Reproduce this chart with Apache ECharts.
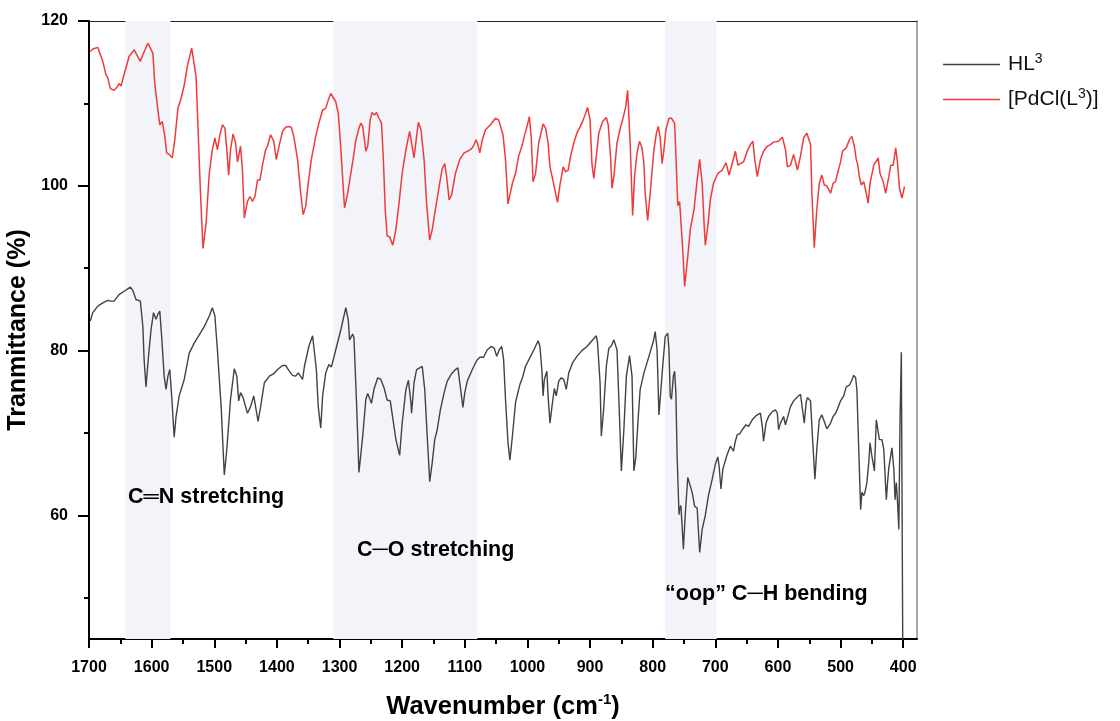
<!DOCTYPE html>
<html><head><meta charset="utf-8">
<script src="https://cdn.jsdelivr.net/npm/echarts@6/dist/echarts.min.js"></script>
<style>html,body{margin:0;padding:0;background:#fff}#c{width:1120px;height:721px}</style>
</head><body><div id="c"></div><script>
// ---- data ----
const hlWavenumber = [1698,1694,1686,1678,1670,1665,1660,1652,1644,1634,1630,1625,1618,1614,1612,1609,1605,1601,1597,1593,1590,1587,1584,1580,1577,1574,1571,1568,1564,1561,1556,1548,1540,1532,1524,1516,1508,1503,1499,1495,1489,1484,1480,1474,1468,1464,1461,1458,1454,1451,1447,1442,1437,1434,1430,1426,1420,1412,1405,1399,1391,1386,1381,1375,1370,1366,1359,1356,1349,1343,1341,1337,1334,1330,1327,1322,1317,1313,1306,1298,1290,1286,1284,1279,1277,1273,1269,1263,1258,1255,1249,1245,1239,1234,1229,1224,1219,1215,1210,1204,1200,1194,1190,1186,1185,1181,1177,1172,1168,1164,1160,1156,1152,1148,1144,1139,1133,1128,1121,1115,1111,1108,1103,1100,1096,1088,1081,1076,1070,1064,1058,1053,1049,1045,1041,1038,1035,1031,1028,1024,1019,1012,1008,1003,995,989,983,980,977,975,973,969,967,964,960,957,954,950,946,942,938,934,928,921,913,905,897,890,888,884,882,878,874,870,866,862,859,857,854,850,846,842,837,833,830,827,823,820,814,806,799,796,793,790,788,784,780,776,774,772,770,767,765,763,761,758,757,755,753,751,748,744,741,737,733,729,725,721,716,711,705,700,696,694,691,688,682,676,671,668,665,661,657,655,651,647,641,635,628,625,623,619,615,609,604,601,599,596,591,588,585,580,575,570,564,561,558,555,553,548,545,541,538,534,530,526,522,516,512,508,505,500,495,491,486,482,479,476,474,471,468,466,463,461,458,455,453,450,446,443,440,438,434,431,427,425,423,420,418,415,413,411,409,407,405,403,400.5];
const hlTransmittance = [83.6,84.6,85.4,85.8,86.1,86.0,86.0,86.8,87.2,87.7,87.3,86.2,86.0,82.9,78.9,75.6,79.3,82.5,84.6,83.8,84.4,84.8,81.7,76.9,75.3,76.9,77.7,74.5,69.5,72.0,74.5,76.5,79.7,80.9,81.9,82.9,84.2,85.2,84.2,80.1,73.2,64.9,68.0,74.1,77.8,76.9,73.9,74.9,74.3,74.5,72.4,73.2,74.5,74.3,71.4,73.2,76.1,76.9,77.2,77.7,78.2,78.2,77.6,77.0,76.9,77.3,76.5,78.1,80.5,81.8,81.6,77.7,73.2,70.6,74.5,77.3,78.3,78.0,80.1,82.5,85.2,83.7,81.3,82.0,81.6,74.0,65.2,69.6,74.1,74.8,73.6,75.3,76.7,76.5,75.5,74.0,73.9,71.8,69.2,67.3,71.2,75.3,76.4,73.7,72.4,76.1,77.7,77.9,78.1,75.3,69.6,64.1,66.4,69.2,70.4,72.8,74.9,76.3,77.2,77.7,77.9,76.1,73.1,74.9,76.3,77.7,78.8,79.2,79.2,80.1,80.5,80.3,79.3,80.1,80.5,78.9,74.1,68.8,66.7,69.6,73.7,75.9,76.7,78.1,79.3,80.2,81.2,80.5,77.7,74.5,76.5,77.5,74.5,71.2,73.7,75.4,74.5,76.3,76.7,76.5,75.3,77.3,78.5,79.3,80.0,80.5,81.2,81.8,80.9,76.1,69.6,73.2,78.1,80.3,80.6,81.3,81.3,80.1,74.1,65.4,70.4,76.9,79.4,76.9,65.4,67.0,72.0,75.3,77.3,79.3,81.1,82.3,80.1,72.2,72.0,78.1,81.7,82.1,80.1,74.5,74.1,76.9,77.5,74.9,67.2,60.1,60.8,61.2,58.7,55.9,60.1,64.6,64.8,62.8,61.1,60.9,55.5,58.3,60.0,62.4,64.4,66.2,67.1,66.0,63.2,65.6,67.2,68.4,67.8,69.0,69.8,69.9,70.4,70.2,71.0,70.8,71.6,72.1,72.4,70.8,69.0,71.2,72.0,72.6,72.8,72.4,70.4,71.2,72.0,71.0,71.8,73.2,73.9,74.3,74.7,74.5,71.2,73.7,74.3,73.9,69.6,64.4,68.0,71.6,72.2,71.4,70.5,71.2,72.0,72.4,72.9,73.9,74.5,75.6,75.8,76.4,77.0,76.7,75.3,68.0,60.7,62.8,62.4,62.8,64.0,66.4,68.8,67.2,65.4,71.6,71.5,69.2,69.2,68.0,61.9,64.0,65.8,66.0,68.2,65.6,61.9,64.0,61.5,58.3,72.0,79.8,40];

const pdWavenumber = [1698,1694,1686,1683,1678,1673,1670,1666,1660,1655,1652,1649,1644,1636,1628,1625,1618,1614,1606,1603,1598,1595,1590,1587,1583,1579,1576,1572,1567,1563,1558,1553,1548,1543,1536,1533,1529,1526,1522,1518,1513,1508,1503,1499,1495,1491,1487,1483,1480,1477,1474,1470,1466,1463,1458,1455,1452,1447,1443,1439,1435,1431,1427,1423,1418,1415,1410,1405,1401,1396,1391,1386,1381,1377,1373,1367,1362,1358,1354,1350,1345,1338,1333,1327,1322,1318,1314,1311,1306,1302,1298,1292,1287,1279,1274,1269,1266,1263,1258,1255,1251,1248,1244,1241,1237,1233,1230,1227,1224,1220,1215,1210,1205,1200,1194,1188,1185,1181,1177,1174,1170,1165,1161,1156,1152,1147,1141,1136,1132,1129,1125,1121,1115,1108,1101,1093,1089,1085,1082,1079,1076,1072,1067,1059,1051,1046,1039,1035,1031,1024,1019,1014,1008,1005,1000,997,994,991,987,982,975,971,967,964,960,958,952,948,943,939,935,931,926,921,913,907,904,900,897,894,890,886,880,874,871,867,865,862,857,851,848,843,840,838,836,832,829,825,821,817,814,812,808,804,798,794,791,788,785,782,779,774,770,767,765,762,760,757,755,752,749,744,740,734,729,725,721,718,716,712,708,703,696,689,683,678,673,668,664,660,655,649,644,640,637,633,628,623,617,612,607,599,593,591,588,585,580,575,572,569,564,559,554,548,546,542,538,534,530,526,522,516,512,508,505,500,497,491,486,482,478,475,473,470,467,463,459,456,453,447,440,437,432,428,423,420,416,412,409,406,402,398];
const pdTransmittance = [116.3,116.6,116.8,116.7,115.1,113.5,113.1,111.8,111.6,112.0,112.4,112.1,113.5,115.7,116.5,116.6,115.1,115.9,117.3,117.2,116.1,112.4,109.2,107.4,107.8,106.0,104.0,103.8,103.4,105.6,109.4,110.6,112.2,114.5,116.7,116.5,113.2,107.2,99.1,92.4,95.5,101.5,104.4,105.8,104.4,106.2,107.4,107.0,104.4,101.3,104.4,106.3,105.2,102.9,104.8,101.9,96.1,98.1,98.7,98.1,98.7,100.7,100.7,102.5,104.4,104.8,106.2,105.4,103.2,105.0,106.6,107.1,107.2,107.1,106.0,103.2,99.1,96.5,97.5,100.3,103.2,106.0,107.6,109.2,109.4,110.4,111.2,111.0,110.2,108.8,104.6,97.3,99.1,102.9,105.5,107.0,107.6,107.2,104.2,104.8,108.0,108.9,108.6,108.9,108.2,107.6,103.2,97.1,93.9,93.8,92.8,94.7,97.9,101.5,104.4,106.6,105.2,103.4,106.0,107.7,106.8,103.2,97.9,93.4,94.7,97.1,99.9,102.1,102.7,101.1,98.3,98.9,101.5,103.2,104.0,104.3,104.5,105.0,105.6,105.0,104.0,105.6,106.8,107.4,108.2,108.0,106.2,103.2,97.8,100.3,101.5,103.6,105.0,106.0,107.4,108.4,106.0,100.5,101.5,105.2,107.5,107.0,105.2,102.3,100.9,101.1,98.0,100.1,102.3,101.7,101.9,103.6,105.2,106.4,107.6,108.8,109.5,108.0,102.7,100.9,103.6,106.4,107.8,108.3,107.4,103.2,99.7,101.1,105.2,107.2,108.0,109.6,111.6,111.5,105.2,96.4,101.1,104.0,105.4,104.6,102.7,99.1,95.8,99.1,104.4,106.4,107.2,105.8,102.7,104.4,106.8,108.2,108.2,108.3,107.6,101.9,97.6,98.1,98.2,92.2,87.8,91.4,94.7,97.1,100.7,103.2,100.3,95.5,92.8,95.1,98.3,100.3,101.5,101.9,102.8,101.3,102.7,104.2,102.5,102.7,102.9,104.2,105.0,105.4,103.2,101.1,103.2,104.2,104.8,105.0,105.3,105.4,105.9,105.8,104.4,102.3,102.5,103.8,102.9,101.9,103.6,105.8,106.4,105.0,99.5,92.5,97.1,100.3,101.3,100.1,100.0,99.1,100.3,100.5,101.5,102.9,104.2,104.6,105.6,106.0,104.8,103.2,102.7,101.1,100.1,100.5,99.1,97.9,100.3,102.5,103.4,101.5,100.5,99.1,101.1,102.5,102.5,104.6,102.7,99.7,98.5,99.9];

const seriesNames = ['HL3', '[PdCl(L3)]'];
const xMajorTicks = [1700,1600,1500,1400,1300,1200,1100,1000,900,800,700,600,500,400];
const xMinorTicks = [1650,1550,1450,1350,1250,1150,1050,950,850,750,650,550,450];
const yMajorTicks = [60,80,100,120];
const yMinorTicks = [50,70,90,110];
const bandStart = [1642, 1310, 780];
const bandEnd = [1570, 1080, 698];
const annotations = ['C\u2550N stretching', 'C\u2500O stretching', '\u201Coop\u201D C\u2500H bending'];

// ---- chart ----
const FF = '"Liberation Sans", Arial, sans-serif';
const X_MIN = 378, X_MAX = 1700, Y_MIN = 45, Y_MAX = 120;
const chart = echarts.init(document.getElementById('c'), null, {renderer: 'canvas'});
const hlData = hlWavenumber.map((w, i) => [w, hlTransmittance[i]]);
const pdData = pdWavenumber.map((w, i) => [w, pdTransmittance[i]]);
const bands = bandStart.map((s, i) => [{xAxis: s}, {xAxis: bandEnd[i]}]);

const baseX = {type: 'value', min: X_MIN, max: X_MAX, inverse: true, splitLine: {show: false}};
const baseY = {type: 'value', min: Y_MIN, max: Y_MAX, splitLine: {show: false}};

chart.setOption({
  animation: false,
  backgroundColor: '#fff',
  grid: {left: 89, right: 203, top: 21, bottom: 82, containLabel: false, outerBoundsMode: 'none'},
  xAxis: [
    Object.assign({}, baseX, {
      position: 'bottom',
      axisLine: {show: true, onZero: false, lineStyle: {color: '#000', width: 2}},
      axisTick: {show: true, inside: false, length: 9, customValues: xMajorTicks, lineStyle: {color: '#000', width: 2}},
      axisLabel: {show: true, customValues: xMajorTicks, margin: 21, color: '#000', fontSize: 16, fontWeight: 'bold', fontFamily: FF,
        formatter: v => String(v)},
      name: '{a|Wavenumber (cm}{s|-1}{a|)}',
      nameLocation: 'middle', nameGap: 53,
      nameTextStyle: {rich: {
        a: {fontSize: 25.5, fontWeight: 'bold', fontFamily: FF, color: '#000', lineHeight: 30},
        s: {fontSize: 15, fontWeight: 'bold', fontFamily: FF, color: '#000', verticalAlign: 'top', lineHeight: 15}
      }}
    }),
    Object.assign({}, baseX, {
      position: 'bottom',
      axisLine: {show: false, onZero: false},
      axisTick: {show: true, inside: false, length: 5, customValues: xMinorTicks, lineStyle: {color: '#000', width: 2}},
      axisLabel: {show: false}
    }),
    Object.assign({}, baseX, {
      position: 'top',
      axisLine: {show: true, onZero: false, lineStyle: {color: '#222', width: 1}},
      axisTick: {show: false}, axisLabel: {show: false}
    })
  ],
  yAxis: [
    Object.assign({}, baseY, {
      position: 'left',
      axisLine: {show: true, onZero: false, lineStyle: {color: '#000', width: 2}},
      axisTick: {show: true, inside: false, length: 11, customValues: yMajorTicks, lineStyle: {color: '#000', width: 2}},
      axisLabel: {show: true, customValues: yMajorTicks, margin: 21, color: '#000', fontSize: 16, fontWeight: 'bold', fontFamily: FF,
        formatter: v => String(v)},
      name: 'Tranmittance (%)', nameLocation: 'middle', nameGap: 47,
      nameTextStyle: {fontSize: 25, fontWeight: 'bold', fontFamily: FF, color: '#000'}
    }),
    Object.assign({}, baseY, {
      position: 'left',
      axisLine: {show: false, onZero: false},
      axisTick: {show: true, inside: false, length: 5, customValues: yMinorTicks, lineStyle: {color: '#000', width: 2}},
      axisLabel: {show: false}
    }),
    Object.assign({}, baseY, {
      position: 'right',
      axisLine: {show: true, onZero: false, lineStyle: {color: '#8a8a8a', width: 1.5}},
      axisTick: {show: false}, axisLabel: {show: false}
    })
  ],
  legend: {
    orient: 'vertical', left: 938, top: 47, padding: 5,
    icon: 'rect', itemWidth: 57, itemHeight: 1.5, itemGap: 12,
    data: seriesNames,
    formatter: n => n === 'HL3' ? '{g|}{t|HL}{s|3}' : '{g|}{t|[PdCl(L}{s|3}{t|)]}',
    textStyle: {rich: {
      g: {width: 3, fontSize: 21, lineHeight: 25},
      t: {fontSize: 21, fontFamily: FF, color: '#111', lineHeight: 25},
      s: {fontSize: 14, fontFamily: FF, color: '#111', verticalAlign: 'top', lineHeight: 14}
    }}
  },
  series: [
    {
      name: seriesNames[0], type: 'line', data: hlData, symbol: 'none', smooth: false, z: 3,
      xAxisIndex: 0, yAxisIndex: 0, clip: true,
      lineStyle: {color: '#424242', width: 1.4}, itemStyle: {color: '#424242'},
      markArea: {silent: true, itemStyle: {color: '#f2f4fa'}, data: bands}
    },
    {
      name: seriesNames[1], type: 'line', data: pdData, symbol: 'none', smooth: false, z: 3,
      xAxisIndex: 0, yAxisIndex: 0, clip: true,
      lineStyle: {color: '#f03a3a', width: 1.5}, itemStyle: {color: '#f03a3a'}
    }
  ],
  graphic: [
    {type: 'text', left: 128, top: 486, z: 10, style: {text: annotations[0], font: 'bold 21.5px ' + FF, fill: '#000'}},
    {type: 'text', left: 357, top: 539, z: 10, style: {text: annotations[1], font: 'bold 21.5px ' + FF, fill: '#000'}},
    {type: 'text', left: 665, top: 583, z: 10, style: {text: annotations[2], font: 'bold 21.5px ' + FF, fill: '#000'}}
  ]
});
</script></body></html>
